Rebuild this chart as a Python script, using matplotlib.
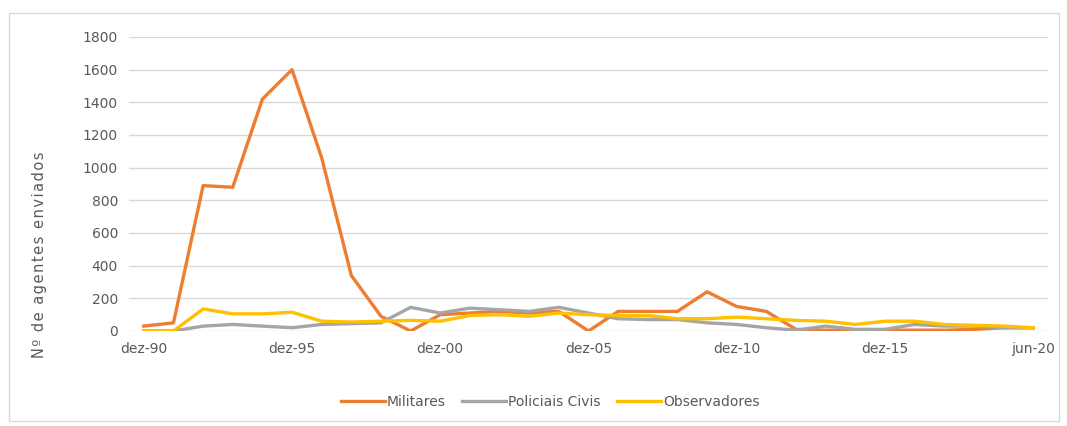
import matplotlib.pyplot as plt
from matplotlib.patches import Rectangle

# categorias (dez de cada ano 1990-2019 + jun 2020)
anos = ['dez-%02d' % (y % 100) for y in range(1990, 2020)] + ['jun-20']

militares = [30, 50, 890, 880, 1420, 1600, 1060, 340, 90, 0,
             100, 110, 120, 110, 120, 0, 120, 120, 120, 240,
             150, 120, 10, 5, 5, 5, 5, 5, 10, 20, 20]
policiais = [0, 0, 30, 40, 30, 20, 40, 45, 50, 145,
             110, 140, 130, 120, 145, 110, 75, 70, 70, 50,
             40, 20, 5, 30, 10, 10, 40, 30, 30, 20, 20]
observadores = [0, 0, 135, 105, 105, 115, 60, 55, 60, 65,
                60, 95, 100, 90, 110, 100, 95, 95, 75, 75,
                85, 75, 65, 60, 40, 60, 60, 40, 35, 30, 20]

x = list(range(len(anos)))
cinza = '#595959'

fig = plt.figure(figsize=(10.67, 4.26), dpi=100)
ax = fig.add_axes([129/1067, 1 - 331/426, 919/1067, 294/426])

ax.plot(x, militares, color='#ED7D31', lw=2.4, label='Militares')
ax.plot(x, policiais, color='#A5A5A5', lw=2.4, label='Policiais Civis')
ax.plot(x, observadores, color='#FFC000', lw=2.4, label='Observadores')

ax.set_xlim(-0.5, len(anos) - 0.5)
ax.set_ylim(0, 1800)
ax.set_yticks(range(0, 1801, 200))
ax.set_xticks(x[::5])
ax.set_xticklabels(anos[::5])
ax.tick_params(length=0, colors=cinza, labelsize=10, pad=8)
ax.grid(axis='y', color='#D9D9D9', lw=1)
ax.set_axisbelow(True)
for s in ax.spines.values():
    s.set_visible(False)

rotulo = '\u200a'.join('Nº de agentes enviados')
fig.text(40/1067, 1 - 255/426, rotulo, rotation=90, ha='center', va='center',
         color=cinza, fontsize=10.5)

leg = fig.legend(loc='center', bbox_to_anchor=(550/1067, 1 - 402/426), ncol=3,
                 frameon=False, fontsize=10, handlelength=3.2, columnspacing=1.2,
                 handletextpad=0.1)
for t in leg.get_texts():
    t.set_color(cinza)

fig.patches.append(Rectangle((9/1067, 5/426), 1050/1067, 408/426, transform=fig.transFigure,
                             fill=False, edgecolor='#D9D9D9', lw=1))

fig.savefig('out.png', dpi=100)
